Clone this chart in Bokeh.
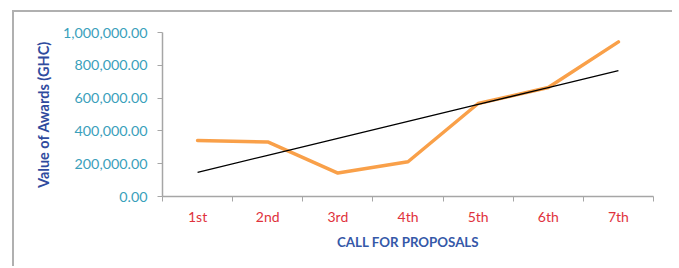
import numpy as np
from bokeh.plotting import figure
from bokeh.models import Range1d, FixedTicker, NumeralTickFormatter
from bokeh.embed import file_html
from bokeh.resources import INLINE

# Data
calls = ["1st", "2nd", "3rd", "4th", "5th", "6th", "7th"]
awards = [341000, 333000, 143000, 212000, 567000, 665000, 943000]
y_ticks = [0, 200000, 400000, 600000, 800000, 1000000]

xs = np.arange(1, len(calls) + 1)
slope, intercept = np.polyfit(xs, np.array(awards, dtype=float), 1)
trend = slope * xs + intercept

FONT = "Lato"

p = figure(width=660, height=256, output_backend="svg", toolbar_location=None,
           x_range=Range1d(0.5, len(calls) + 0.5), y_range=Range1d(0, 1000000),
           min_border_left=148, min_border_right=21, min_border_top=20, min_border_bottom=72)
p.styles = {"margin-left": "12px", "margin-top": "10px",
            "border-left": "2px solid #b0b0b0", "border-top": "2px solid #b0b0b0"}
p.outline_line_color = None
p.grid.visible = False
p.background_fill_color = "white"
p.border_fill_color = "white"

p.line(xs, awards, line_color="#f9a049", line_width=3.5, line_join="round", line_cap="round")
p.line(xs, trend, line_color="black", line_width=1.3)

# X axis: boundary ticks as minor ticks, labels at centers
xa = p.xaxis[0]
xa.ticker = FixedTicker(ticks=list(xs), minor_ticks=[i + 0.5 for i in range(0, len(calls) + 1)])
xa.major_label_overrides = {int(i): c for i, c in zip(xs, calls)}
xa.major_tick_line_color = None
xa.major_tick_out = 5
xa.major_tick_in = 0
xa.minor_tick_line_color = "#a6a6a6"
xa.minor_tick_out = 5
xa.minor_tick_in = 0
xa.axis_line_color = "#a6a6a6"
xa.axis_line_width = 1.5
xa.major_label_text_color = "#e0323c"
xa.major_label_text_font = FONT
xa.major_label_text_font_size = "14px"
xa.major_label_standoff = 6
xa.axis_label = "CALL FOR PROPOSALS"
xa.axis_label_text_font = FONT
xa.axis_label_text_font_style = "bold"
xa.axis_label_text_font_size = "13.3px"
xa.axis_label_text_color = "#3558a8"
xa.axis_label_standoff = 6

ya = p.yaxis[0]
ya.ticker = FixedTicker(ticks=y_ticks)
ya.formatter = NumeralTickFormatter(format="0,0.00")
ya.minor_tick_line_color = None
ya.major_tick_out = 5
ya.major_tick_in = 0
ya.major_tick_line_color = "#a6a6a6"
ya.axis_line_color = "#a6a6a6"
ya.axis_line_width = 1.5
ya.major_label_text_color = "#3aa0bb"
ya.major_label_text_font = FONT
ya.major_label_text_font_size = "14.3px"
ya.major_label_standoff = 10
ya.axis_label = "Value of Awards (GHC)"
ya.axis_label_text_font = FONT
ya.axis_label_text_font_style = "bold"
ya.axis_label_text_font_size = "14.5px"
ya.axis_label_text_color = "#2f4b9e"
ya.axis_label_standoff = 8

open("out.html", "w").write(file_html(p, INLINE))
